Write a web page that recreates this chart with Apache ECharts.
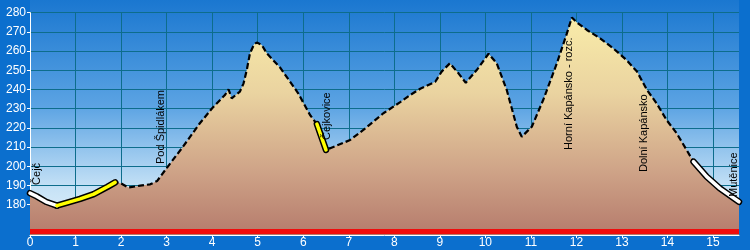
<!DOCTYPE html>
<html>
<head>
<meta charset="utf-8">
<script src="https://cdn.jsdelivr.net/npm/echarts@6/dist/echarts.min.js"></script>
<style>html,body{margin:0;padding:0;background:#0b6fce;}#c{width:750px;height:250px;}</style>
</head>
<body>
<div id="c"></div>
<script>
// distance (km) and elevation (m) of the route profile
const dist = [0, 0.15, 0.35, 0.59, 0.8, 1.1, 1.4, 1.7, 1.87, 2.0, 2.16, 2.42, 2.64, 2.79, 3.0, 3.36, 3.73, 4.0, 4.28, 4.36, 4.43, 4.61, 4.69, 4.76, 4.83, 4.92, 4.98, 5.09, 5.2, 5.49, 5.71, 5.89, 6.15, 6.3, 6.5, 6.74, 7.03, 7.32, 7.76, 8.13, 8.35, 8.57, 8.9, 9.04, 9.22, 9.41, 9.57, 9.81, 10.07, 10.25, 10.47, 10.69, 10.8, 11.02, 11.27, 11.57, 11.79, 11.9, 11.99, 12.23, 12.52, 12.81, 13.1, 13.33, 13.55, 13.76, 13.98, 14.2, 14.42, 14.57, 14.86, 15.15, 15.57];
const elev = [186, 184.3, 181.5, 179.5, 180.9, 183.0, 185.5, 189.3, 191.6, 191.1, 188.9, 189.9, 190.6, 192.3, 199.0, 210.2, 222.4, 230.2, 237.1, 240.0, 235.4, 238.9, 243.2, 250.1, 258.8, 263.5, 264.4, 263.2, 258.8, 251.5, 244.1, 238.0, 226.7, 222.0, 208.5, 210.8, 213.7, 218.9, 227.6, 233.4, 237.1, 240.4, 244.0, 249.3, 253.6, 248.4, 243.5, 250.1, 258.6, 253.6, 239.7, 220.6, 215.4, 220.6, 234.5, 253.6, 269.2, 277.5, 275.3, 271.0, 266.6, 261.4, 255.3, 249.3, 239.7, 232.8, 224.1, 217.2, 208.5, 202.4, 194.6, 188.5, 181.5];

// highlighted route sections (km ranges)
const whiteSections = [[0, 0.59], [14.57, 15.57]];
const yellowSections = [[0.59, 1.87], [6.3, 6.5]];

// red bar along the bottom (km range, elevation level)
const redBarKm = [0, 15.57];
const redBarLevel = 166;

// axis ticks
const xTicks = [0,1,2,3,4,5,6,7,8,9,10,11,12,13,14,15];
const yTicks = [180,190,200,210,220,230,240,250,260,270,280];

// waypoints
const wpNames = ['Čejč', 'Pod Špidlákem', 'Čejkovice', 'Horní Kapánsko - rozc.', 'Dolní Kapánsko', 'Mutěnice'];
const wpKm = [0.16, 2.88, 6.52, 11.83, 13.49, 15.45];
const wpLabelElev = [190.3, 201.2, 213.7, 208.5, 197.0, 184.0];

const profile = dist.map((d, i) => [d, elev[i]]);
function sectionData(sec) {
  return profile.filter(p => p[0] >= sec[0] - 1e-9 && p[0] <= sec[1] + 1e-9);
}

const series = [];
series.push({
  type: 'line', data: profile, symbol: 'none', smooth: false, z: 3,
  lineStyle: { color: '#000', width: 2.2, type: [6, 3] },
  areaStyle: {
    origin: 'start', opacity: 1,
    color: new echarts.graphic.LinearGradient(0, 0, 0, 1, [
      { offset: 0, color: '#f9eca9' },
      { offset: 0.35, color: '#ead3a0' },
      { offset: 0.7, color: '#cfa488' },
      { offset: 1, color: '#b57b6c' }
    ])
  }
});
function addSections(secs, color) {
  secs.forEach(sec => {
    const d = sectionData(sec);
    series.push({ type: 'line', data: d, symbol: 'none', z: 4,
      lineStyle: { color: '#000', width: 6.5, cap: 'round', join: 'round' } });
    series.push({ type: 'line', data: d, symbol: 'none', z: 5,
      lineStyle: { color: color, width: 3.5, cap: 'round', join: 'round' } });
  });
}
addSections(whiteSections, '#ffffff');
addSections(yellowSections, '#ffff00');
series.push({
  type: 'line', data: redBarKm.map(k => [k, redBarLevel]), symbol: 'none', z: 6,
  lineStyle: { color: '#f00c0c', width: 5 }
});

const chart = echarts.init(document.getElementById('c'), null, { renderer: 'canvas' });
const gridLeft = 30, gridRight = 11, gridTop = 12.67, gridBottom = 15;
chart.setOption({
  backgroundColor: '#0b6fce',
  animation: false,
  grid: { left: gridLeft, right: gridRight, top: gridTop, bottom: gridBottom, containLabel: false },
  graphic: [{
    id: 'skybg', type: 'rect', z: -10, silent: true,
    shape: { x: gridLeft, y: 0, width: 750 - gridLeft - gridRight, height: 250 - gridBottom },
    style: { fill: new echarts.graphic.LinearGradient(0, 0, 0, 1, [
      { offset: 0, color: '#1a77d0' },
      { offset: 0.45, color: '#5ba3e3' },
      { offset: 0.8, color: '#c6e2f6' },
      { offset: 1, color: '#e6f3fc' }
    ]) }
  }],
  xAxis: {
    type: 'value', min: 0, max: 15.57, interval: 1,
    axisLine: { show: true, lineStyle: { color: '#fff', width: 1 } },
    axisTick: { show: true, length: 3, lineStyle: { color: '#fff' }, customValues: xTicks },
    axisLabel: { color: '#fff', fontFamily: 'Liberation Sans, Arial', fontSize: 12, margin: 2, customValues: xTicks },
    splitLine: { show: true, lineStyle: { color: '#0d6d8c', width: 1 } }
  },
  yAxis: {
    type: 'value', min: 164.2, max: 280, minInterval: 10, maxInterval: 10, splitNumber: 11,
    axisLine: { show: true, lineStyle: { color: '#fff', width: 1 } },
    axisTick: { show: true, length: 3, lineStyle: { color: '#fff' }, customValues: yTicks },
    axisLabel: { color: '#fff', fontFamily: 'Liberation Sans, Arial', fontSize: 12, margin: 4, customValues: yTicks },
    splitLine: { show: true, lineStyle: { color: '#0d6d8c', width: 1 } }
  },
  series: series
});

const labels = wpNames.map((n, i) => {
  const p = chart.convertToPixel({ gridIndex: 0 }, [wpKm[i], wpLabelElev[i]]);
  return {
    id: 'wp' + i, type: 'text', z: 20, silent: true, x: p[0], y: p[1], rotation: Math.PI / 2,
    style: { text: n, fill: '#000', font: '11px "Liberation Sans", Arial', textAlign: 'left', textVerticalAlign: 'middle' }
  };
});
chart.setOption({ graphic: labels });
</script>
</body>
</html>
